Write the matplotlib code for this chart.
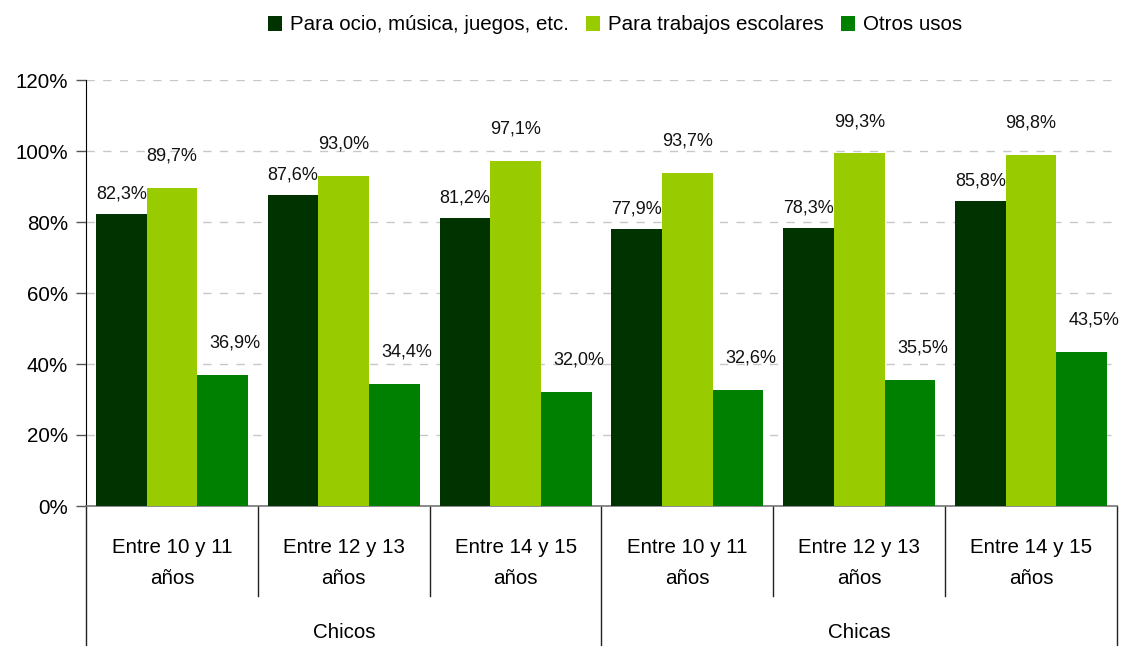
import matplotlib
matplotlib.use("Agg")
import matplotlib.pyplot as plt
import numpy as np
from matplotlib import font_manager

# pick a condensed sans if available
names = {f.name for f in font_manager.fontManager.ttflist}
base_font = "Liberation Sans Narrow" if "Liberation Sans Narrow" in names else "Liberation Sans"
plt.rcParams['font.family'] = [base_font, 'DejaVu Sans']

age_groups = ["Entre 10 y 11\naños", "Entre 12 y 13\naños", "Entre 14 y 15\naños",
              "Entre 10 y 11\naños", "Entre 12 y 13\naños", "Entre 14 y 15\naños"]
sexes = ["Chicos", "Chicas"]
series_names = ["Para ocio, música, juegos, etc.", "Para trabajos escolares", "Otros usos"]
ocio = [82.3, 87.6, 81.2, 77.9, 78.3, 85.8]
escolares = [89.7, 93.0, 97.1, 93.7, 99.3, 98.8]
otros = [36.9, 34.4, 32.0, 32.6, 35.5, 43.5]
y_ticks = [0, 20, 40, 60, 80, 100, 120]

colors = ["#003300", "#99cc00", "#008000"]
# label offsets (points): dx, dy per series
label_off = [(0, 14.5), (0, 23), (9, 23)]
fs = 14.8

fig = plt.figure(figsize=(11.27, 6.46), dpi=100)
ax = fig.add_axes([86/1127, 140/646, (1117-86)/1127, 426/646])

x = np.arange(len(age_groups))
w = 0.295
for i, (vals, name) in enumerate(zip([ocio, escolares, otros], series_names)):
    pos = x + (i - 1) * w
    ax.bar(pos, vals, width=w, color=colors[i], label=name, zorder=3)
    for px, v in zip(pos, vals):
        ax.annotate(f"{v:.1f}%".replace(".", ","), (px, v),
                    xytext=label_off[i], textcoords="offset points",
                    ha="center", va="center", fontsize=13, color="#111111")

ax.set_xlim(-0.5, len(age_groups) - 0.5)
ax.set_ylim(0, 120)
ax.set_yticks(y_ticks)
ax.set_yticklabels([f"{t}%" for t in y_ticks], fontsize=fs)
ax.tick_params(axis="y", direction="out", length=7, width=1, color="#555555", pad=6)
ax.set_xticks([])
ax.yaxis.grid(True, linestyle=(0, (6, 6)), color="#c8c8c8", linewidth=1)
ax.set_axisbelow(True)
for s in ["top", "right"]:
    ax.spines[s].set_visible(False)
ax.spines["left"].set_color("black")
ax.spines["bottom"].set_color("#777777")
ax.spines["bottom"].set_linewidth(1.2)

tr = ax.get_xaxis_transform()
# category labels under each group
for xi, lab in zip(x, age_groups):
    ax.text(xi, -0.134, lab, transform=tr, ha="center", va="center",
            fontsize=fs, linespacing=1.75)
for k, s in enumerate(sexes):
    ax.text(1 + 3 * k, -0.297, s, transform=tr, ha="center", va="center", fontsize=fs)

# separators between categories
for b in np.arange(-0.5, len(age_groups), 1.0):
    low = -0.329 if (b + 0.5) % 3 == 0 else -0.211
    ax.plot([b, b], [0, low], transform=tr, color="#222222", lw=1, clip_on=False)

fig.legend(loc="center", bbox_to_anchor=(615/1127, 1 - 25/646), ncol=3,
           frameon=False, fontsize=fs, handlelength=0.7, handleheight=0.7,
           handletextpad=0.4, columnspacing=0.8)

fig.savefig("out.png", dpi=100)
